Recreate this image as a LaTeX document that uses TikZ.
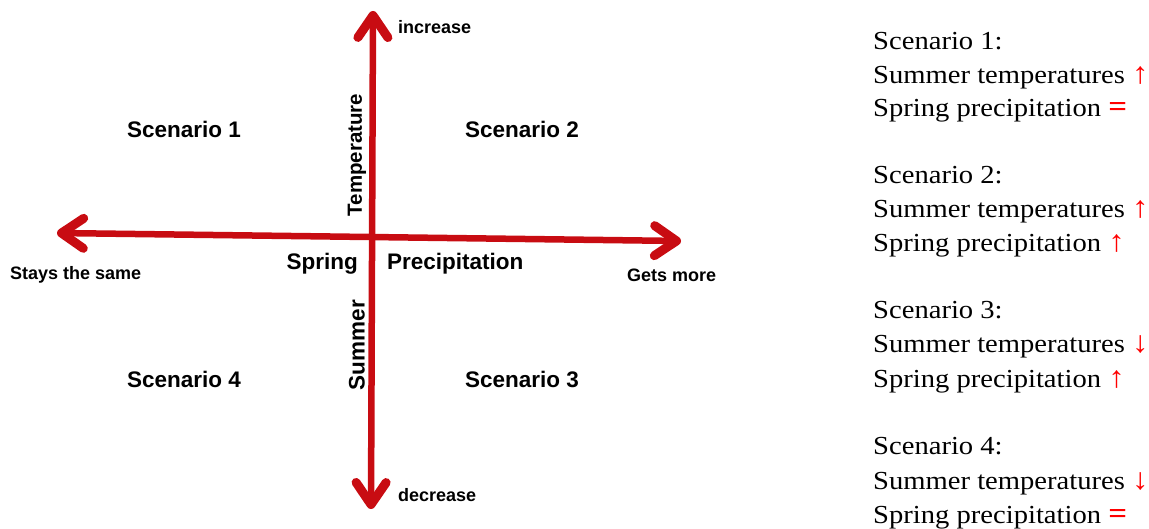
\documentclass[tikz,border=0pt]{standalone}
\usepackage{fontspec}
\setmainfont{Liberation Serif}
\setsansfont{Liberation Sans}
\newfontfamily\legendfont[FakeStretch=1.1]{Liberation Serif}
\usetikzlibrary{arrows.meta}
\definecolor{axisred}{RGB}{200,12,18}
\definecolor{txtred}{RGB}{255,0,0}
\tikzset{
  barbtip/.tip={Straight Barb[length=22pt,width=30pt,line width'=9pt,round]},
  axisline/.style={draw=axisred, line width=6.5pt, barbtip-barbtip},
  biglab/.style={font=\sffamily\bfseries\fontsize{22.5}{24}\selectfont, inner sep=0pt},
  axlab/.style={font=\sffamily\bfseries\fontsize{20.5}{24}\selectfont, inner sep=0pt},
  smalllab/.style={font=\sffamily\bfseries\fontsize{18}{20}\selectfont, inner sep=0pt},
  legend/.style={font=\legendfont\fontsize{26}{30}\selectfont, inner sep=0pt, anchor=base west},
}
\newcommand{\upar}{{\color{txtred}\fontsize{30}{30}\selectfont↑}}
\newcommand{\dnar}{{\color{txtred}\fontsize{30}{30}\selectfont↓}}
\newcommand{\eqsym}{{\color{txtred}\fontsize{30}{30}\selectfont\textbf{=}}}
\begin{document}
\begin{tikzpicture}[x=1pt,y=-1pt]
\useasboundingbox (0,0) rectangle (1149,529);
% axes
\coordinate (top) at (373,11);
\coordinate (bottom) at (371,509);
\coordinate (left) at (57,233);
\coordinate (right) at (681,241);
\draw[axisline] (bottom) -- (top);
\draw[axisline] (left) -- (right);
% axis end labels
\node[smalllab, anchor=west] (inc) at (398,27) {increase};
\node[smalllab, anchor=west] (dec) at (398,495) {decrease};
\node[smalllab, anchor=west] (stay) at (10,275) {Stays the same};
\node[smalllab, anchor=west] (more) at (627,275) {Gets more};
% axis titles
\node[biglab, anchor=east] (spring) at (358,264) {Spring};
\node[biglab, anchor=west] (precip) at (387,264) {Precipitation};
\node[axlab, rotate=90] (temp) at (357,155) {Temperature};
\node[biglab, rotate=90] (summer) at (357,345) {Summer};
% quadrants
\node[biglab] (q1) at (184,129) {Scenario 1};
\node[biglab] (q2) at (522,129) {Scenario 2};
\node[biglab] (q4) at (184,379) {Scenario 4};
\node[biglab] (q3) at (522,379) {Scenario 3};
% legend
\node[legend] (l1a) at (873,50) {Scenario 1:};
\node[legend] (l1b) at (873,84) {Summer temperatures \upar};
\node[legend] (l1c) at (873,117) {Spring precipitation \eqsym};
\node[legend] (l2a) at (873,184) {Scenario 2:};
\node[legend] (l2b) at (873,218) {Summer temperatures \upar};
\node[legend] (l2c) at (873,252) {Spring precipitation \upar};
\node[legend] (l3a) at (873,319) {Scenario 3:};
\node[legend] (l3b) at (873,353) {Summer temperatures \dnar};
\node[legend] (l3c) at (873,388) {Spring precipitation \upar};
\node[legend] (l4a) at (873,454) {Scenario 4:};
\node[legend] (l4b) at (873,489) {Summer temperatures \dnar};
\node[legend] (l4c) at (873,523) {Spring precipitation \eqsym};
\end{tikzpicture}
\end{document}
